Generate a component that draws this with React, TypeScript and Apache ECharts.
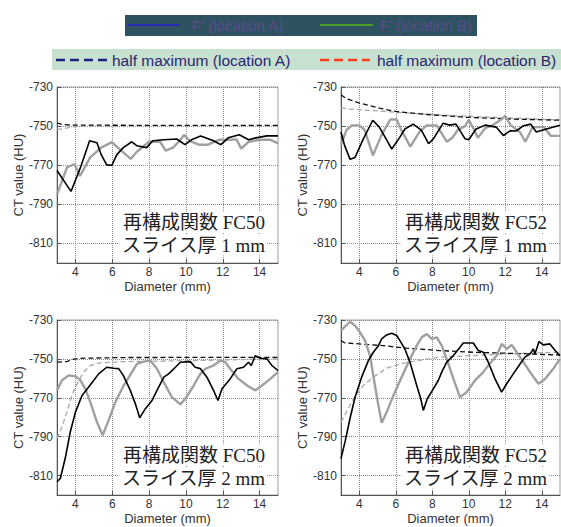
import React, { useEffect, useRef } from "react";
import * as echarts from "echarts";

const xTicks = [4, 6, 8, 10, 12, 14];
const yTicks = [-810, -790, -770, -750, -730];

const panelTitles = ["再構成関数 FC50", "再構成関数 FC52", "再構成関数 FC50", "再構成関数 FC52"];
const panelSlices = ["スライス厚 1 mm", "スライス厚 1 mm", "スライス厚 2 mm", "スライス厚 2 mm"];

const legendTop = ["F' (location A)", "F' (location B)"];
const legendBottom = ["half maximum (location A)", "half maximum (location B)"];

// Panel 1: FC50, 1 mm
const p1Black = [[3,-772.7],[3.76,-783.4],[4.26,-771.5],[4.77,-757.5],[5.17,-758.5],[5.4,-764.6],[5.7,-769.8],[5.98,-770],[6.25,-764.6],[6.6,-761],[7.06,-758],[7.33,-760],[7.87,-761],[8.2,-757.5],[8.8,-757],[9.5,-756.6],[9.95,-759.5],[10.3,-757],[10.8,-755],[11.5,-757.5],[11.9,-759.5],[12.3,-756],[12.9,-754.4],[13.4,-757],[13.8,-756],[14.4,-755],[15,-755]];
const p1Gray = [[3,-785],[3.55,-771],[3.95,-769.5],[4.25,-775.5],[4.8,-766],[5.4,-761],[5.98,-758.2],[6.3,-761],[7.0,-766.8],[7.35,-763],[8.0,-758],[8.6,-758],[8.9,-762.5],[9.3,-761],[9.66,-757.5],[9.9,-754.5],[10.2,-757.5],[10.7,-759.5],[11.2,-759.5],[11.8,-757],[12.4,-757],[12.75,-756.8],[13.0,-761.5],[13.4,-758],[14.0,-757],[14.6,-757],[15,-758.8]];
const p1BlackDash = [[3,-748.4],[3.3,-749.2],[3.8,-749.5],[8,-749.6],[15,-749.6]];
const p1GrayDash = [[3,-751.8],[3.5,-751],[4,-750.1],[8,-749.9],[15,-749.8]];

// Panel 2: FC52, 1 mm
const p2Black = [[3,-753],[3.2,-760],[3.5,-767],[3.77,-766],[4.2,-757],[4.74,-747],[5.1,-750.5],[5.5,-757],[5.78,-761.7],[6.2,-756],[6.5,-751.5],[6.96,-749],[7.4,-752],[7.8,-759],[8.06,-756.5],[8.6,-748.5],[8.95,-749.5],[9.3,-749],[9.8,-756.5],[10.0,-757],[10.4,-751.5],[10.9,-749.5],[11.5,-750.5],[11.9,-754.8],[12.26,-752.4],[12.6,-752.5],[13.0,-749.8],[13.4,-749],[13.7,-753],[14.3,-751.3],[15,-749.6]];
const p2Gray = [[3,-759.7],[3.3,-752],[3.6,-749.6],[4.0,-749.6],[4.3,-752],[4.75,-765],[5.2,-755],[5.7,-746.6],[6.05,-746.6],[6.3,-752],[6.8,-760.5],[7.3,-753],[7.7,-749.6],[8.25,-749.6],[8.8,-758],[9.1,-756],[9.4,-752],[9.8,-750],[10.0,-746.8],[10.3,-752],[10.5,-756],[10.9,-751],[11.3,-749.6],[11.8,-746.5],[12.0,-744.7],[12.3,-749.6],[12.8,-753],[13.1,-758],[13.5,-750.5],[14.1,-750.5],[14.5,-755],[15,-755]];
const p2BlackDash = [[3,-734],[3.3,-736],[4,-738.2],[5.1,-740.8],[6,-742.5],[7.9,-744.2],[9.9,-745.5],[12.4,-746.4],[15,-747]];
const p2GrayDash = [[3,-740.5],[3.4,-741.3],[3.9,-741.6],[5.1,-742.3],[7,-743.5],[8.8,-744.5],[10.6,-745.2],[15,-746.8]];

// Panel 3: FC50, 2 mm
const p3Black = [[3,-813.2],[3.18,-811.5],[3.45,-801],[3.72,-787.6],[4.0,-777.4],[4.36,-768.8],[4.72,-764.5],[5.0,-761],[5.26,-757.7],[5.7,-754.3],[6.08,-754.8],[6.35,-755],[6.6,-758.5],[6.98,-766.2],[7.25,-773],[7.49,-780.3],[7.8,-775.6],[8.16,-771.4],[8.43,-766.2],[8.8,-759.4],[9.06,-757.7],[9.43,-754.3],[9.7,-751.7],[10.24,-751.4],[10.5,-754.3],[10.78,-755],[11.14,-759.4],[11.5,-766.2],[11.74,-771.4],[11.96,-765.4],[12.4,-760.3],[12.77,-755.1],[13.13,-754.3],[13.4,-751.7],[13.55,-753.4],[13.77,-748.3],[14.04,-749.7],[14.4,-750],[14.67,-753.4],[15,-756]];
const p3Gray = [[3,-766.2],[3.27,-761],[3.63,-758.5],[4.0,-758.9],[4.27,-761],[4.54,-765.4],[4.81,-772.2],[5.17,-782.5],[5.48,-789.3],[5.8,-781.6],[6.17,-772.2],[6.62,-763.7],[7.07,-756.8],[7.34,-752.6],[7.7,-751.4],[8.07,-750.9],[8.43,-755.1],[8.8,-762],[9.24,-769.7],[9.7,-773.4],[9.97,-770.5],[10.42,-763.7],[10.78,-757.7],[11.05,-755.1],[11.5,-753.4],[11.87,-750.9],[12.14,-751.7],[12.4,-755.1],[12.86,-760.3],[13.32,-763.7],[13.77,-766.2],[14.13,-763.7],[14.58,-760.3],[15,-756.8]];
const p3BlackDash = [[3,-751.7],[3.54,-751.4],[3.8,-750.3],[4.27,-749.7],[6.6,-749.3],[15,-749.2]];
const p3GrayDash = [[3,-791],[3.27,-785],[3.54,-777.4],[3.8,-768.8],[4.09,-762.8],[4.45,-756.8],[4.81,-753.4],[5.35,-752],[6.6,-751.4],[10.2,-750.9],[15,-750]];

// Panel 4: FC52, 2 mm
const p4Black = [[3,-801.3],[3.22,-792.7],[3.49,-780.8],[3.77,-769.7],[4.13,-759.4],[4.5,-750.9],[4.77,-746.6],[5.05,-743.2],[5.23,-739.7],[5.5,-737.7],[5.78,-736.8],[6.05,-738],[6.23,-740.6],[6.5,-744.9],[6.78,-751.7],[7.15,-763.7],[7.37,-770.5],[7.51,-776.5],[7.73,-770.5],[8.06,-765.4],[8.33,-761.1],[8.52,-756.8],[8.79,-751.7],[9.16,-748.3],[9.52,-744],[9.7,-741.8],[10.25,-741.8],[10.52,-745.7],[10.8,-746.6],[11.07,-751.7],[11.44,-760.3],[11.8,-767.1],[12.08,-762.8],[12.44,-757.7],[12.81,-752.6],[13.08,-749.1],[13.36,-747.4],[13.54,-744.9],[13.63,-747.4],[13.85,-741.1],[14.08,-742.8],[14.45,-742.3],[14.73,-745.7],[15,-748.3]];
const p4Gray = [[3,-735.5],[3.27,-732.9],[3.49,-730.9],[3.77,-732.9],[4.04,-736.3],[4.32,-740.6],[4.59,-748.3],[4.86,-763.7],[5.05,-774],[5.23,-782.8],[5.5,-777.4],[5.87,-768.8],[6.32,-759.4],[6.78,-750],[7.15,-743.2],[7.42,-738.9],[7.7,-737.2],[7.97,-739.7],[8.25,-738.9],[8.52,-743.2],[8.79,-750],[9.16,-760.3],[9.52,-769.7],[9.89,-767.1],[10.34,-761.1],[10.8,-756.8],[11.07,-753.4],[11.53,-748.3],[11.8,-742.3],[12.08,-744.9],[12.35,-742.8],[12.63,-746.6],[13,-751.7],[13.36,-756.8],[13.82,-762.8],[14.18,-760.3],[14.63,-755.1],[15,-750]];
const p4BlackDash = [[3,-740.6],[3.22,-741.8],[4,-742.3],[5.3,-743.2],[6.6,-744.5],[8.4,-745.7],[10.25,-746.6],[12.1,-747.1],[15,-748]];
const p4GrayDash = [[3,-782.5],[3.3,-777.4],[3.68,-770.5],[4.22,-763.7],[4.77,-759.4],[5.5,-754.8],[6.23,-752.6],[7.15,-750.9],[8.4,-749.1],[10.25,-748.3],[12.1,-747.4],[15,-746.6]];

const panels = [
  { black: p1Black, gray: p1Gray, blackDash: p1BlackDash, grayDash: p1GrayDash },
  { black: p2Black, gray: p2Gray, blackDash: p2BlackDash, grayDash: p2GrayDash },
  { black: p3Black, gray: p3Gray, blackDash: p3BlackDash, grayDash: p3GrayDash },
  { black: p4Black, gray: p4Gray, blackDash: p4BlackDash, grayDash: p4GrayDash },
];

const gridBoxes = [
  { left: 57, top: 87, width: 221, height: 176 },
  { left: 341, top: 87, width: 219, height: 176 },
  { left: 57, top: 320, width: 221, height: 175 },
  { left: 341, top: 320, width: 219, height: 175 },
];

export default function App() {
  const ref = useRef<HTMLDivElement>(null);
  useEffect(() => {
    document.body.style.margin = "0";
    const chart = echarts.init(ref.current!, null, { renderer: "svg" });
    const font = "'Liberation Sans', Arial, sans-serif";
    const serif = "'Liberation Serif', 'DejaVu Serif', 'Noto Sans CJK JP', serif";

    const grid = gridBoxes.map((g) => ({
      ...g,
      show: true,
      borderColor: "#a0a0a0",
      borderWidth: 1,
      backgroundColor: "transparent",
    }));

    const xAxis = gridBoxes.map((_, i) => ({
      gridIndex: i,
      type: "value",
      min: 3,
      max: 15,
      name: "Diameter (mm)",
      nameLocation: "middle",
      nameGap: 17,
      nameTextStyle: { fontSize: 13, color: "#333", fontFamily: font },
      axisLine: { show: true, lineStyle: { color: "#555", width: 1 } },
      axisTick: { show: true, inside: true, length: 4, customValues: xTicks, lineStyle: { color: "#555" } },
      axisLabel: { customValues: xTicks, margin: 3, fontSize: 12, color: "#333", fontFamily: font },
      splitLine: { show: true, lineStyle: { type: "dotted", color: "#8a8a8a", width: 1 } },
    }));

    const yAxis = gridBoxes.map((_, i) => ({
      gridIndex: i,
      type: "value",
      min: -820,
      max: -730,
      name: "CT value (HU)",
      nameLocation: "middle",
      nameGap: 32,
      nameTextStyle: { fontSize: 13, color: "#333", fontFamily: font },
      axisLine: { show: true, lineStyle: { color: "#555", width: 1 } },
      axisTick: { show: true, inside: true, length: 4, customValues: yTicks, lineStyle: { color: "#555" } },
      axisLabel: { customValues: yTicks, margin: 4, fontSize: 12, color: "#333", fontFamily: font },
      splitLine: { show: true, lineStyle: { type: "dotted", color: "#8a8a8a", width: 1 } },
    }));

    const series: any[] = [];
    panels.forEach((p, i) => {
      const base = { type: "line", xAxisIndex: i, yAxisIndex: i, showSymbol: false, symbol: "none", silent: true };
      series.push({ ...base, name: "grayDash" + i, data: p.grayDash, lineStyle: { color: "#a8a8a8", width: 1.3, type: [5, 3] } });
      series.push({ ...base, name: "blackDash" + i, data: p.blackDash, lineStyle: { color: "#111", width: 1.3, type: [5, 3] } });
      series.push({ ...base, name: "gray" + i, data: p.gray, lineStyle: { color: "#a0a0a0", width: 2.4 } });
      series.push({ ...base, name: "black" + i, data: p.black, lineStyle: { color: "#000", width: 1.6 } });
    });

    const graphic: any[] = [];
    gridBoxes.forEach((g, i) => {
      const right = g.left + g.width - 11;
      graphic.push({
        type: "text",
        x: right,
        y: g.top + 135,
        z: 50,
        style: {
          text: panelTitles[i],
          fontSize: 19,
          fontFamily: serif,
          fill: "#222",
          align: "right",
          verticalAlign: "middle",
          backgroundColor: "#fff",
          padding: [1, 2],
        },
      });
      graphic.push({
        type: "text",
        x: right,
        y: g.top + 158,
        z: 50,
        style: {
          text: panelSlices[i],
          fontSize: 19,
          fontFamily: serif,
          fill: "#222",
          align: "right",
          verticalAlign: "middle",
          backgroundColor: "#fff",
          padding: [1, 2],
        },
      });
    });

    // legend row 1
    graphic.push({ type: "rect", shape: { x: 125, y: 15, width: 352, height: 21 }, style: { fill: "#2e5260" }, z: 10 });
    graphic.push({ type: "line", shape: { x1: 128, y1: 25, x2: 180, y2: 25 }, style: { stroke: "#2b2bb5", lineWidth: 2 }, z: 11 });
    graphic.push({ type: "text", x: 192, y: 25.5, z: 11, style: { text: legendTop[0], fontSize: 15, fontFamily: font, fill: "#5a4a90", verticalAlign: "middle" } });
    graphic.push({ type: "line", shape: { x1: 320, y1: 25, x2: 373, y2: 25 }, style: { stroke: "#4c9a28", lineWidth: 2 }, z: 11 });
    graphic.push({ type: "text", x: 380, y: 25.5, z: 11, style: { text: legendTop[1], fontSize: 15, fontFamily: font, fill: "#5a4a90", verticalAlign: "middle" } });

    // legend row 2
    graphic.push({ type: "rect", shape: { x: 52, y: 49, width: 509, height: 21 }, style: { fill: "#c8e0d0" }, z: 10 });
    graphic.push({ type: "line", shape: { x1: 56, y1: 60, x2: 107, y2: 60 }, style: { stroke: "#1a2080", lineWidth: 2.5, lineDash: [9, 5] }, z: 11 });
    graphic.push({ type: "text", x: 112, y: 60, z: 11, style: { text: legendBottom[0], fontSize: 15.5, fontFamily: font, fill: "#2c2670", verticalAlign: "middle" } });
    graphic.push({ type: "line", shape: { x1: 320, y1: 60, x2: 370, y2: 60 }, style: { stroke: "#ff3d1f", lineWidth: 2.5, lineDash: [9, 5] }, z: 11 });
    graphic.push({ type: "text", x: 377, y: 60, z: 11, style: { text: legendBottom[1], fontSize: 15.5, fontFamily: font, fill: "#2c2670", verticalAlign: "middle" } });

    chart.setOption({
      animation: false,
      backgroundColor: "#fff",
      textStyle: { fontFamily: font },
      grid,
      xAxis,
      yAxis,
      series,
      graphic,
    } as any);
    return () => chart.dispose();
  }, []);
  return <div ref={ref} style={{ width: 561, height: 527 }} />;
}
